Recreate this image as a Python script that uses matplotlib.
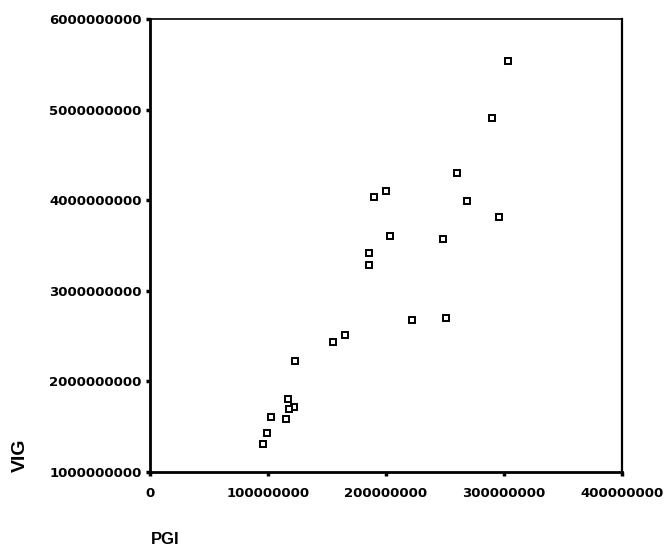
import matplotlib
matplotlib.use("Agg")
import matplotlib.pyplot as plt

# Data
pgi = [3.03e8, 2.90e8, 2.60e8, 1.90e8, 2.00e8, 2.69e8, 2.96e8, 2.03e8, 2.48e8,
       1.86e8, 1.86e8, 2.22e8, 2.51e8, 1.65e8, 1.55e8,
       1.23e8, 1.167e8, 1.22e8, 1.18e8, 1.15e8, 1.028e8, 0.989e8, 0.958e8]
vig = [5.54e9, 4.91e9, 4.30e9, 4.04e9, 4.10e9, 3.99e9, 3.81e9, 3.60e9, 3.57e9,
       3.42e9, 3.29e9, 2.68e9, 2.70e9, 2.51e9, 2.44e9,
       2.22e9, 1.81e9, 1.72e9, 1.69e9, 1.59e9, 1.61e9, 1.43e9, 1.31e9]

x_ticks = [0, 100000000, 200000000, 300000000, 400000000]
x_labels = ["0", "100000000", "200000000", "300000000", "400000000"]
y_ticks = [1000000000, 2000000000, 3000000000, 4000000000, 5000000000, 6000000000]
y_labels = ["1000000000", "2000000000", "3000000000", "4000000000", "5000000000", "6000000000"]

plt.rcParams['font.family'] = ['DejaVu Sans']

fig = plt.figure(figsize=(6.66, 5.52), dpi=100)
ax = fig.add_axes([150/666, 1-472/552, (622-150)/666, (472-19)/552])

ax.plot(pgi, vig, linestyle='none', marker='s', markersize=5,
        markerfacecolor='white', markeredgecolor='black', markeredgewidth=1.4)

ax.set_xlim(0, 4e8)
ax.set_ylim(1e9, 6e9)
ax.set_xticks(x_ticks)
ax.set_xticklabels(x_labels, fontweight='bold', fontsize=9.5)
ax.set_yticks(y_ticks)
ax.set_yticklabels(y_labels, fontweight='bold', fontsize=9.5)
ax.tick_params(axis='both', direction='out', length=3, width=2.5, color='black')
ax.tick_params(axis='x', pad=8)
ax.tick_params(axis='y', pad=3)

for side in ['left', 'bottom']:
    ax.spines[side].set_linewidth(2.0)
ax.spines['right'].set_linewidth(1.6)
ax.spines['top'].set_linewidth(1.2)

fig.text(20/666, 1-455/552, "VIG", rotation=90, ha='center', va='center',
         fontsize=14, fontweight='bold', family=['Liberation Sans', 'DejaVu Sans'])
fig.text(165/666, 1-540/552, "PGI", ha='center', va='center',
         fontsize=12, fontweight='bold', family=['Liberation Sans', 'DejaVu Sans'])

fig.savefig("out.png", dpi=100)
